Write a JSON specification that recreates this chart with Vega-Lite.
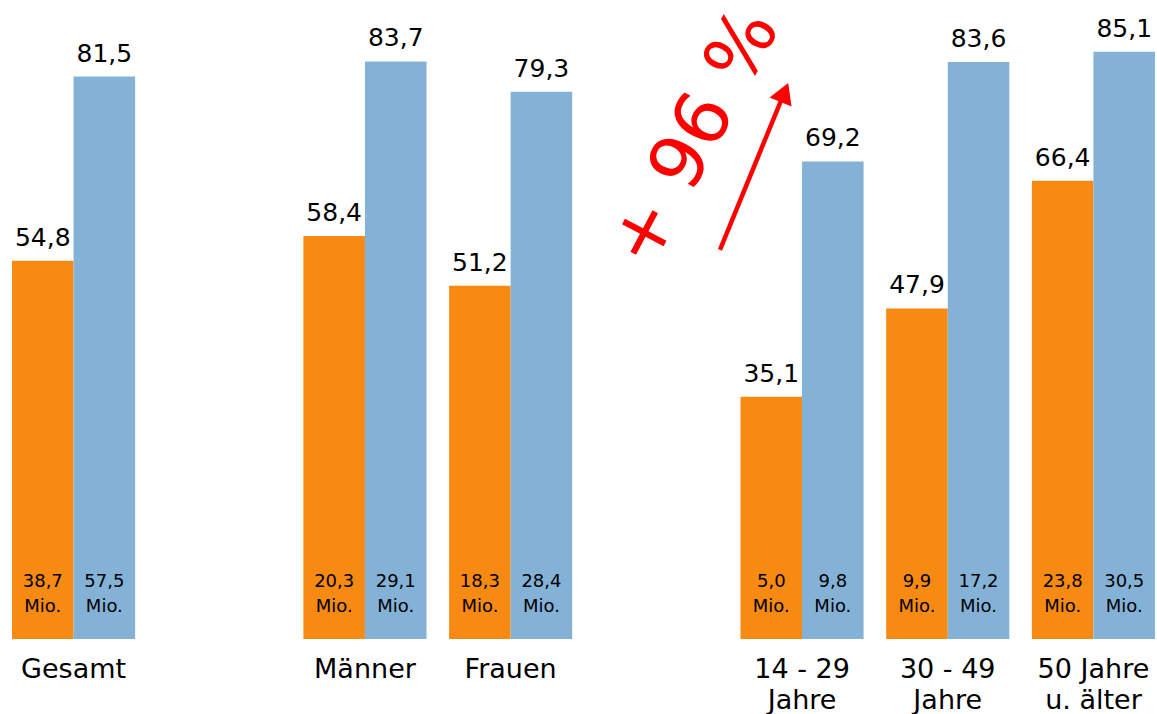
{
  "$schema": "https://vega.github.io/schema/vega-lite/v6.json",
  "width": 1143,
  "height": 639,
  "autosize": {"type": "none"},
  "padding": {"left": 12, "top": 0, "right": 2, "bottom": 75},
  "config": {"view": {"stroke": null}, "font": "DejaVu Sans"},
  "datasets": {
    "bars": [
      {"Gruppe": "Gesamt", "Serie": "vorher", "Wert": 54.8, "Label": "54,8", "Mio": "38,7\nMio."},
      {"Gruppe": "Gesamt", "Serie": "nachher", "Wert": 81.5, "Label": "81,5", "Mio": "57,5\nMio."},
      {"Gruppe": "Männer", "Serie": "vorher", "Wert": 58.4, "Label": "58,4", "Mio": "20,3\nMio."},
      {"Gruppe": "Männer", "Serie": "nachher", "Wert": 83.7, "Label": "83,7", "Mio": "29,1\nMio."},
      {"Gruppe": "Frauen", "Serie": "vorher", "Wert": 51.2, "Label": "51,2", "Mio": "18,3\nMio."},
      {"Gruppe": "Frauen", "Serie": "nachher", "Wert": 79.3, "Label": "79,3", "Mio": "28,4\nMio."},
      {"Gruppe": "14 - 29|Jahre", "Serie": "vorher", "Wert": 35.1, "Label": "35,1", "Mio": "5,0\nMio."},
      {"Gruppe": "14 - 29|Jahre", "Serie": "nachher", "Wert": 69.2, "Label": "69,2", "Mio": "9,8\nMio."},
      {"Gruppe": "30 - 49|Jahre", "Serie": "vorher", "Wert": 47.9, "Label": "47,9", "Mio": "9,9\nMio."},
      {"Gruppe": "30 - 49|Jahre", "Serie": "nachher", "Wert": 83.6, "Label": "83,6", "Mio": "17,2\nMio."},
      {"Gruppe": "50 Jahre|u. älter", "Serie": "vorher", "Wert": 66.4, "Label": "66,4", "Mio": "23,8\nMio."},
      {"Gruppe": "50 Jahre|u. älter", "Serie": "nachher", "Wert": 85.1, "Label": "85,1", "Mio": "30,5\nMio."}
    ],
    "pfeil": [{"x1": 4.955, "y1": 56.4, "x2": 5.406, "y2": 79.2}],
    "spitze": [{"x": 5.406, "y": 79.2}],
    "notiz": [{"x": 4.78, "y": 72.6, "t": "+ 96 %"}]
  },
  "layer": [
    {
      "data": {"name": "bars"},
      "encoding": {
        "x": {
          "field": "Gruppe",
          "type": "nominal",
          "sort": null,
          "scale": {
            "domain": ["Gesamt", "_1", "Männer", "Frauen", "_2", "14 - 29|Jahre", "30 - 49|Jahre", "50 Jahre|u. älter"],
            "paddingInner": 0.155,
            "paddingOuter": 0
          },
          "axis": {
            "title": null,
            "domain": false,
            "ticks": false,
            "labelAngle": 0,
            "labelFontSize": 27,
            "labelColor": "#000000",
            "labelBaseline": "alphabetic",
            "labelPadding": 38,
            "labelLineHeight": 31,
            "labelLimit": 0,
            "labelOverlap": false,
            "labelExpr": "indexof(datum.value, '_') == 0 ? '' : split(datum.value, '|')"
          }
        },
        "xOffset": {
          "field": "Serie",
          "type": "nominal",
          "sort": ["vorher", "nachher"],
          "scale": {"paddingInner": 0, "paddingOuter": 0}
        },
        "y": {
          "field": "Wert",
          "type": "quantitative",
          "scale": {"domain": [0, 92.6], "nice": false},
          "axis": null
        }
      },
      "layer": [
        {
          "mark": {"type": "bar"},
          "encoding": {
            "color": {
              "field": "Serie",
              "type": "nominal",
              "scale": {"domain": ["vorher", "nachher"], "range": ["#F68A12", "#83B2D6"]},
              "legend": null
            }
          }
        },
        {
          "mark": {"type": "text", "fontSize": 25, "baseline": "alphabetic", "dy": -15, "color": "#000000"},
          "encoding": {"text": {"field": "Label"}}
        },
        {
          "mark": {"type": "text", "fontSize": 18, "baseline": "alphabetic", "dy": -52, "lineBreak": "\n", "lineHeight": 25, "color": "#000000"},
          "encoding": {
            "y": {"datum": 0, "type": "quantitative", "scale": {"domain": [0, 92.6], "nice": false}},
            "text": {"field": "Mio"}
          }
        }
      ]
    },
    {
      "data": {"name": "pfeil"},
      "mark": {"type": "rule", "color": "#FF0000", "strokeWidth": 4.5},
      "encoding": {
        "x": {"field": "x1", "type": "quantitative", "scale": {"domain": [0, 8], "nice": false, "zero": false}, "axis": null},
        "x2": {"field": "x2"},
        "y": {"field": "y1", "type": "quantitative", "scale": {"domain": [0, 92.6], "nice": false}, "axis": null},
        "y2": {"field": "y2"}
      }
    },
    {
      "data": {"name": "spitze"},
      "mark": {"type": "point", "shape": "triangle-up", "filled": true, "size": 560, "angle": 22, "color": "#FF0000", "opacity": 1},
      "encoding": {
        "x": {"field": "x", "type": "quantitative", "scale": {"domain": [0, 8], "nice": false, "zero": false}, "axis": null},
        "y": {"field": "y", "type": "quantitative", "scale": {"domain": [0, 92.6], "nice": false}, "axis": null}
      }
    },
    {
      "data": {"name": "notiz"},
      "mark": {"type": "text", "angle": 298, "fontSize": 75, "color": "#FF0000", "align": "center", "baseline": "middle"},
      "encoding": {
        "x": {"field": "x", "type": "quantitative", "scale": {"domain": [0, 8], "nice": false, "zero": false}, "axis": null},
        "y": {"field": "y", "type": "quantitative", "scale": {"domain": [0, 92.6], "nice": false}, "axis": null},
        "text": {"field": "t"}
      }
    }
  ],
  "resolve": {"scale": {"x": "independent"}}
}
